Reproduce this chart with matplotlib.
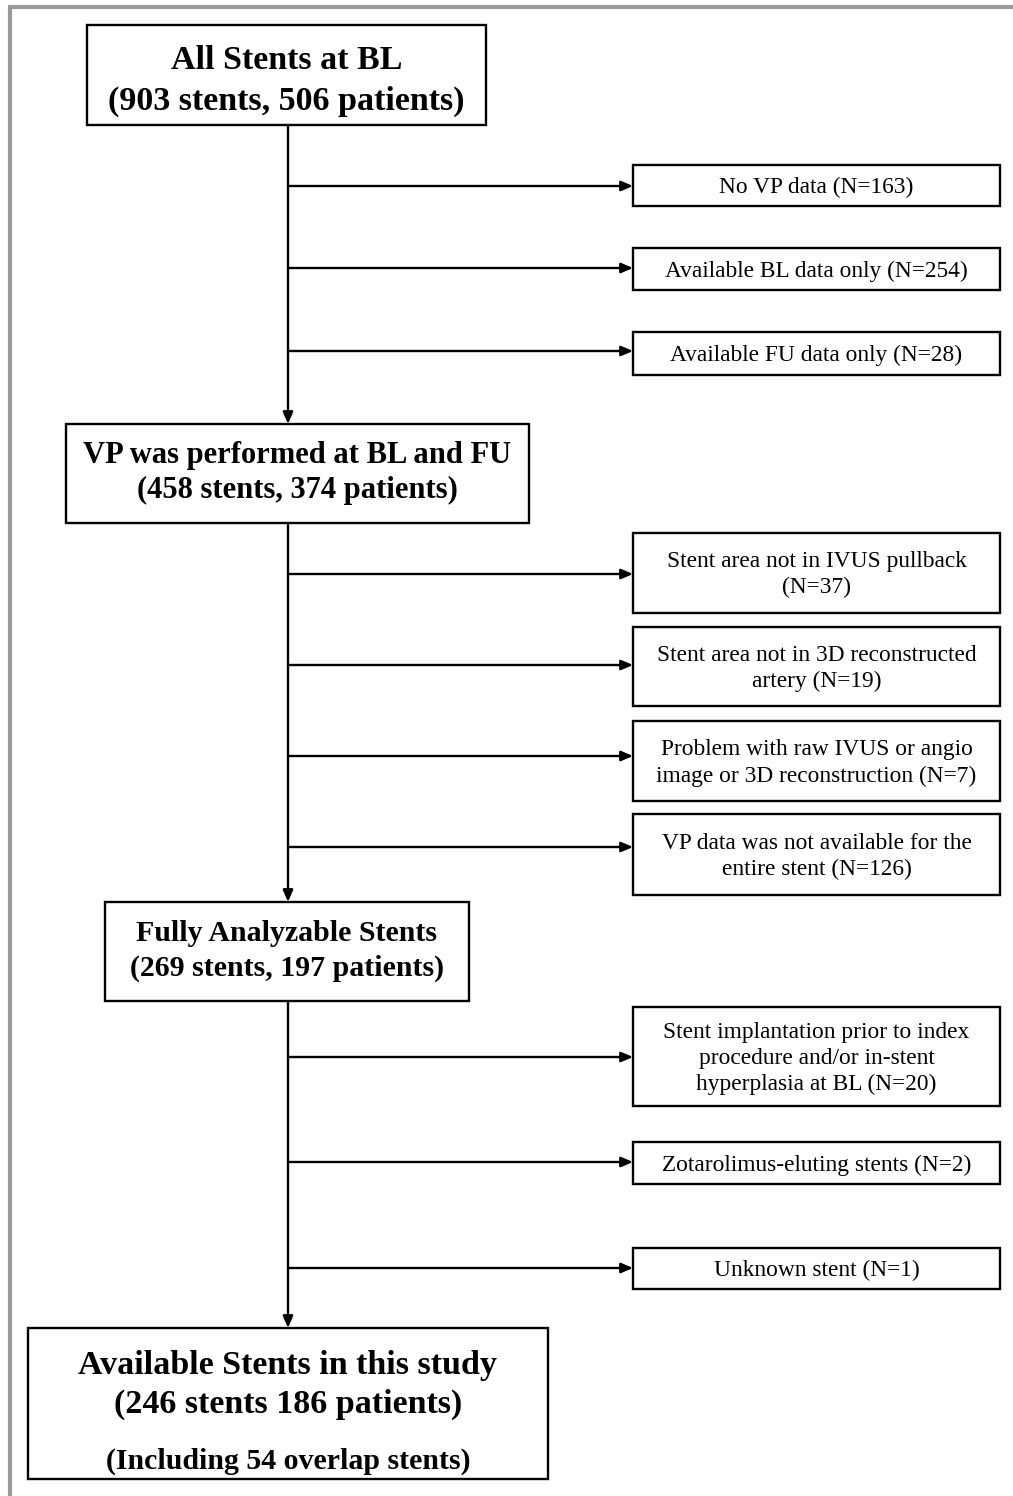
import matplotlib
matplotlib.use("Agg")
from matplotlib import pyplot as plt
from matplotlib.patches import Rectangle

# main flow boxes (text)
main_boxes = [
    "All Stents at BL\n(903 stents, 506 patients)",
    "VP was performed at BL and FU\n(458 stents, 374 patients)",
    "Fully Analyzable Stents\n(269 stents, 197 patients)",
    "Available Stents in this study\n(246 stents 186 patients)",
]
final_note = "(Including 54 overlap stents)"

# exclusions after each step
excl_step1 = [
    "No VP data (N=163)",
    "Available BL data only (N=254)",
    "Available FU data only (N=28)",
]
excl_step2 = [
    "Stent area not in IVUS pullback\n(N=37)",
    "Stent area not in 3D reconstructed\nartery (N=19)",
    "Problem with raw IVUS or angio\nimage or 3D reconstruction (N=7)",
    "VP data was not available for the\nentire stent (N=126)",
]
excl_step3 = [
    "Stent implantation prior to index\nprocedure and/or in-stent\nhyperplasia at BL (N=20)",
    "Zotarolimus-eluting stents (N=2)",
    "Unknown stent (N=1)",
]

# layout in pixel coordinates (x0, y0, x1, y1)
main_pos = [(87, 25, 486, 125), (66, 424, 529, 523), (105, 902, 469, 1001), (28, 1328, 548, 1479)]
# (fontsize, linespacing, text centre y)
main_font = [(24.5, 1.4, 81), (22, 1.3, 473), (21.5, 1.32, 951)]
spine_x = 288
side_x0, side_x1 = 633, 1000
side_pos = [
    [(165, 206), (248, 290), (332, 375)],
    [(533, 613), (627, 706), (721, 801), (814, 895)],
    [(1007, 1106), (1142, 1184), (1248, 1289)],
]
branch_y = [[186, 268, 351], [574, 665, 756, 847], [1057, 1162, 1268]]

W, H = 1013, 1496
fig = plt.figure(figsize=(W / 100, H / 100), dpi=100, facecolor="w")
ax = fig.add_axes([0, 0, 1, 1])
ax.set_xlim(0, W)
ax.set_ylim(H, 0)
ax.axis("off")

serif = ["Liberation Serif", "DejaVu Serif"]
lw = 1.7
arrow = dict(arrowstyle="-|>,head_length=0.7,head_width=0.3", color="black", lw=lw,
             shrinkA=0, shrinkB=0)

# grey frame
ax.plot([8, W], [7, 7], color="#999999", lw=3, solid_capstyle="butt")
ax.plot([10, 10], [7, H], color="#999999", lw=3, solid_capstyle="butt")


def box(x0, y0, x1, y1):
    ax.add_patch(Rectangle((x0, y0), x1 - x0, y1 - y0, fill=False, ec="black", lw=lw))


# main boxes
for i, (text, (x0, y0, x1, y1)) in enumerate(zip(main_boxes, main_pos)):
    box(x0, y0, x1, y1)
    if i < 3:
        fs, ls, yc = main_font[i]
        ax.text((x0 + x1) / 2, yc, text, ha="center", va="center",
                fontsize=fs, fontweight="bold", family=serif, linespacing=ls)
    else:
        ax.text((x0 + x1) / 2, 1385, text, ha="center", va="center",
                fontsize=24.5, fontweight="bold", family=serif, linespacing=1.36)
        ax.text((x0 + x1) / 2, 1461, final_note, ha="center", va="center",
                fontsize=21.5, fontweight="bold", family=serif)

# spine arrows between main boxes
for k in range(3):
    ax.annotate("", xy=(spine_x, main_pos[k + 1][1]), xytext=(spine_x, main_pos[k][3]),
                arrowprops=arrow)

# side boxes and branch arrows
for texts, rows, ys in zip([excl_step1, excl_step2, excl_step3], side_pos, branch_y):
    for text, (y0, y1), yb in zip(texts, rows, ys):
        box(side_x0, y0, side_x1, y1)
        ax.text((side_x0 + side_x1) / 2, (y0 + y1) / 2 + 2, text, ha="center", va="center",
                fontsize=16.8, family=serif, linespacing=1.3)
        ax.annotate("", xy=(side_x0, yb), xytext=(spine_x, yb), arrowprops=arrow)

fig.savefig("out.png", dpi=100, facecolor="w")
